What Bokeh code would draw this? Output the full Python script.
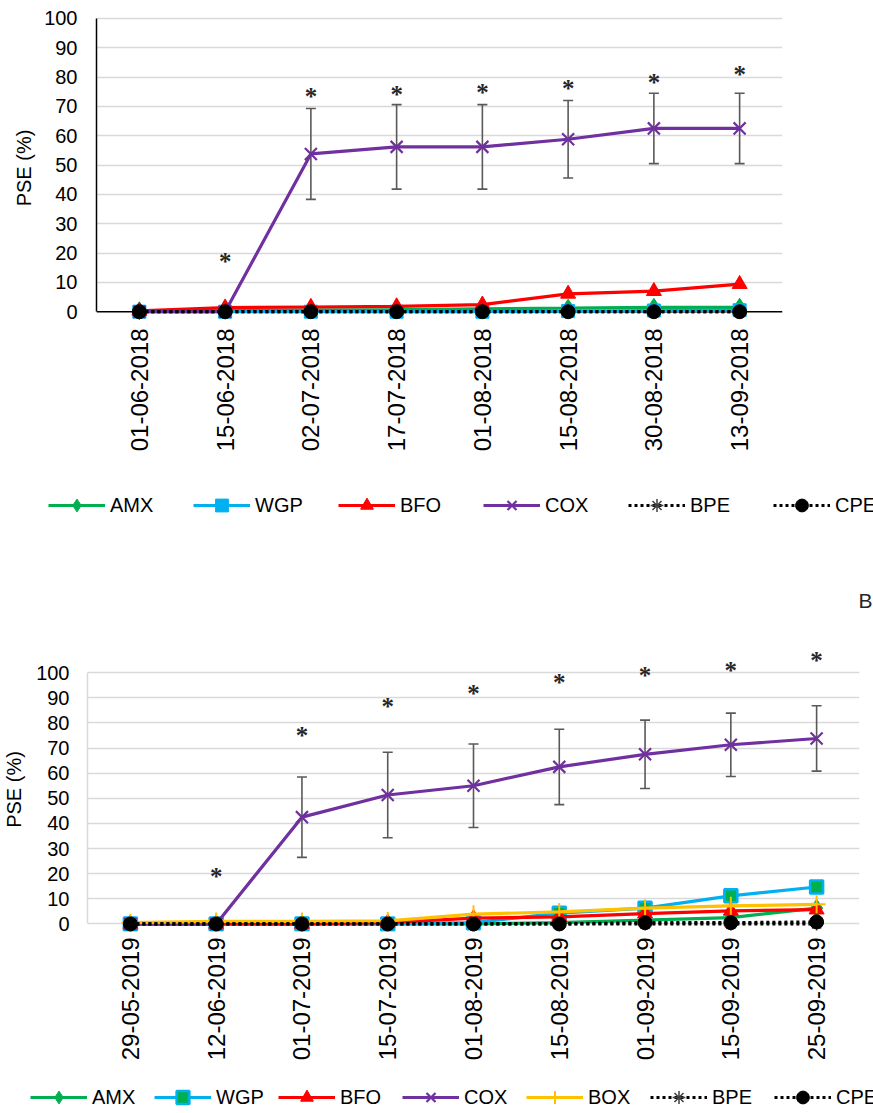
import math
from bokeh.plotting import figure
from bokeh.models import (ColumnDataSource, FixedTicker, Range1d, Span, Whisker, TeeHead,
                          Legend, LegendItem, Label)
from bokeh.layouts import column
from bokeh.embed import file_html
from bokeh.resources import INLINE
from bokeh.core.properties import value

# ---------------- data ----------------
dates_2018 = ["01-06-2018", "15-06-2018", "02-07-2018", "17-07-2018",
              "01-08-2018", "15-08-2018", "30-08-2018", "13-09-2018"]
amx_2018 = [0.3, 0.5, 0.6, 0.7, 1.0, 1.2, 1.5, 1.5]
wgp_2018 = [0.0, 0.0, 0.0, 0.0, 0.0, 0.2, 0.4, 0.5]
bfo_2018 = [0.3, 1.4, 1.6, 1.8, 2.4, 6.1, 7.0, 9.4]
cox_2018 = [0.0, 0.0, 53.8, 56.2, 56.2, 58.8, 62.5, 62.5]
cox_sd_2018 = [0.0, 0.0, 15.5, 14.4, 14.4, 13.2, 12.0, 12.0]
bpe_2018 = [0, 0, 0, 0, 0, 0, 0, 0]
cpe_2018 = [0, 0, 0, 0, 0, 0, 0, 0]
sig_2018 = [None, 17.0, 73.4, 74.0, 74.7, 76.0, 78.2, 81.0]

dates_2019 = ["29-05-2019", "12-06-2019", "01-07-2019", "15-07-2019", "01-08-2019",
              "15-08-2019", "01-09-2019", "15-09-2019", "25-09-2019"]
amx_2019 = [0.0, 0.0, 0.0, 0.0, 0.0, 0.5, 1.5, 2.5, 6.3]
wgp_2019 = [0.0, 0.0, 0.0, 0.0, 0.5, 4.3, 6.3, 11.2, 14.7]
bfo_2019 = [0.0, 0.0, 0.0, 0.5, 2.3, 2.8, 4.1, 5.2, 5.7]
cox_2019 = [0.0, 0.0, 42.5, 51.3, 55.0, 62.5, 67.5, 71.3, 73.8]
cox_sd_2019 = [0.0, 0.0, 16.0, 17.0, 16.6, 15.0, 13.6, 12.6, 13.0]
box_2019 = [0.5, 1.0, 1.0, 1.2, 3.9, 4.8, 6.3, 7.2, 7.8]
bpe_2019 = [0, 0, 0, 0, 0, 0, 0, 0, 0]
cpe_2019 = [0.0, 0.0, 0.0, 0.0, 0.0, 0.0, 0.5, 0.5, 0.8]
sig_2019 = [None, 18.7, 74.9, 86.6, 91.5, 95.9, 99.0, 101.0, 105.0]

y_ticks = list(range(0, 101, 10))

# ---------------- styles ----------------
FONT = "Liberation Sans"
GREEN = "#00b050"
BLUE = "#00b0f0"
RED = "#ff0000"
PURPLE = "#7030a0"
GOLD = "#ffc000"
BLACK = "#000000"
GREY_BAR = "#595959"
W = 873
LEG_Y0 = 200  # legend strips show a window above the data, so only their legend is seen


def add_series(p, xs, s):
    lr = p.line(xs, s["values"], line_color=s["color"], line_width=3.2,
                line_dash=s.get("dash", "solid"))
    mr = p.scatter(xs, s["values"], marker=s["marker"], size=s["size"],
                   fill_color=s.get("fill", s["color"]),
                   line_color=s.get("mline", s["color"]),
                   line_width=s.get("mlw", 1))
    return lr, mr


def build(dates, series, cox, cox_sd, sig, *, height, left, right, top, bottom,
          y_end, axis_color, grid_ticks, x_standoff, y_standoff, ylab_standoff):
    n = len(dates)
    xs = [i + 0.5 for i in range(n)]
    p = figure(width=W, height=height, x_range=Range1d(0, n), y_range=Range1d(-3, y_end),
               output_backend="svg", toolbar_location=None,
               min_border_left=left, min_border_right=right,
               min_border_top=top, min_border_bottom=bottom)
    p.frame_align = False
    p.outline_line_color = None
    p.xgrid.visible = False
    p.ygrid.ticker = FixedTicker(ticks=grid_ticks)
    p.ygrid.grid_line_color = "#d9d9d9"
    p.ygrid.grid_line_width = 1.4

    ya = p.yaxis[0]
    ya.ticker = FixedTicker(ticks=y_ticks)
    ya.bounds = (0, 100)
    ya.axis_line_color = axis_color
    ya.axis_line_width = 1.5
    ya.major_tick_line_color = None
    ya.minor_tick_line_color = None
    ya.major_tick_in = 0
    ya.major_tick_out = 0
    ya.major_label_standoff = y_standoff
    ya.major_label_text_font = FONT
    ya.major_label_text_font_size = "20px"
    ya.major_label_text_color = BLACK
    ya.axis_label = "PSE (%)"
    ya.axis_label_text_font = FONT
    ya.axis_label_text_font_size = "20px"
    ya.axis_label_text_font_style = "normal"
    ya.axis_label_text_color = BLACK
    ya.axis_label_standoff = ylab_standoff

    xa = p.xaxis[0]
    xa.ticker = FixedTicker(ticks=xs)
    xa.major_label_overrides = {x: d for x, d in zip(xs, dates)}
    xa.major_label_orientation = math.pi / 2
    xa.axis_line_color = None
    xa.major_tick_line_color = None
    xa.minor_tick_line_color = None
    xa.major_tick_in = 0
    xa.major_tick_out = 0
    xa.major_label_standoff = x_standoff
    xa.major_label_text_font = FONT
    xa.major_label_text_font_size = "24px"
    xa.major_label_text_color = BLACK

    if axis_color == BLACK:
        p.add_layout(Span(location=0, dimension="width", line_color=BLACK, line_width=1.5,
                          level="underlay"))

    for s in series:
        add_series(p, xs, s)
        if s["name"] == "COX":
            idx = [i for i in range(n) if cox_sd[i] > 0]
            src = ColumnDataSource(dict(x=[xs[i] for i in idx],
                                        upper=[cox[i] + cox_sd[i] for i in idx],
                                        lower=[cox[i] - cox_sd[i] for i in idx]))
            p.add_layout(Whisker(base="x", upper="upper", lower="lower", source=src,
                                 line_color=GREY_BAR, line_width=1.6,
                                 upper_head=TeeHead(size=10, line_color=GREY_BAR, line_width=1.6),
                                 lower_head=TeeHead(size=10, line_color=GREY_BAR, line_width=1.6)))

    sx = [xs[i] for i in range(n) if sig[i] is not None]
    sy = [sig[i] for i in range(n) if sig[i] is not None]
    p.text(x=sx, y=sy, text=["*"] * len(sx), text_font=value("Liberation Serif"),
           text_font_size="25px", text_font_style="bold", text_align="center",
           text_baseline="middle", text_color="#262626")
    return p


def legend_fig(dates, series, height, loc, label_width):
    xs = [i + 0.5 for i in range(len(dates))]
    lp = figure(width=W, height=height, x_range=Range1d(0, W),
                y_range=Range1d(LEG_Y0, LEG_Y0 + height),
                output_backend="svg", toolbar_location=None, min_border=0,
                x_axis_location=None, y_axis_location=None)
    lp.frame_align = False
    lp.grid.visible = False
    lp.outline_line_color = None
    items = []
    for s in series:
        lr, mr = add_series(lp, xs, s)
        items.append(LegendItem(label=s["name"], renderers=[lr, mr]))
    lp.add_layout(Legend(items=items, orientation="horizontal", location=loc,
                         glyph_width=57, glyph_height=32, label_standoff=5,
                         label_width=label_width, spacing=10, padding=0, margin=0,
                         border_line_color=None, background_fill_alpha=0,
                         label_text_font=FONT, label_text_font_size="20px",
                         label_text_color=BLACK))
    return lp


series_2018 = [
    dict(name="AMX", values=amx_2018, color=GREEN, marker="diamond", size=18),
    dict(name="WGP", values=wgp_2018, color=BLUE, marker="square", size=13),
    dict(name="BFO", values=bfo_2018, color=RED, marker="triangle", size=15),
    dict(name="COX", values=cox_2018, color=PURPLE, marker="x", size=17, mlw=2.2),
    dict(name="BPE", values=bpe_2018, color=BLACK, marker="asterisk", size=13, dash="3 3",
         mline="#404040", mlw=1.5),
    dict(name="CPE", values=cpe_2018, color=BLACK, marker="circle", size=14, dash="3 3"),
]

series_2019 = [
    dict(name="AMX", values=amx_2019, color=GREEN, marker="diamond", size=18),
    dict(name="WGP", values=wgp_2019, color=BLUE, marker="square", size=13, fill=GREEN,
         mline=BLUE, mlw=2.5),
    dict(name="BFO", values=bfo_2019, color=RED, marker="triangle", size=15),
    dict(name="COX", values=cox_2019, color=PURPLE, marker="x", size=17, mlw=2.2),
    dict(name="BOX", values=box_2019, color=GOLD, marker="cross", size=18, mlw=2),
    dict(name="BPE", values=bpe_2019, color=BLACK, marker="asterisk", size=13, dash="3 3",
         mline="#404040", mlw=1.5),
    dict(name="CPE", values=cpe_2019, color=BLACK, marker="circle", size=14, dash="3 3"),
]

p1 = build(dates_2018, series_2018, cox_2018, cox_sd_2018, sig_2018,
           height=470, left=96, right=91, top=15, bottom=150,
           y_end=101, axis_color=BLACK, grid_ticks=list(range(10, 101, 10)),
           x_standoff=8, y_standoff=19, ylab_standoff=6)
leg1 = legend_fig(dates_2018, series_2018, 170, (48, 119), 73)
leg1.add_layout(Label(x=858, y=LEG_Y0 + 40, text="B", text_font=FONT, text_font_size="21px",
                      text_baseline="middle", text_align="left", text_color="#262626"))

p2 = build(dates_2019, series_2019, cox_2019, cox_sd_2019, sig_2019,
           height=435, left=87, right=14, top=7, bottom=144,
           y_end=110, axis_color="#d9d9d9", grid_ticks=y_ticks,
           x_standoff=6, y_standoff=18, ylab_standoff=8)
leg2 = legend_fig(dates_2019, series_2019, 38, (30, 0), 52)

layout = column(p1, leg1, p2, leg2, spacing=0)
open("out.html", "w").write(file_html(layout, INLINE))
